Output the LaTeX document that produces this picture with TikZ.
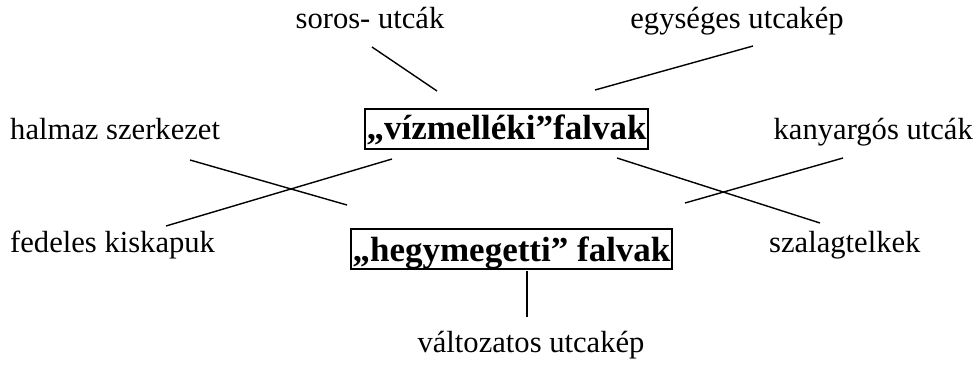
\documentclass[tikz,border=0pt]{standalone}
\usepackage{fontspec}
\setmainfont{Liberation Serif}
\begin{document}
\begin{tikzpicture}[x=1pt,y=-1pt,
  lbl/.style={inner sep=0pt,font=\fontsize{30.6}{36}\selectfont},
  mainbox/.style={draw,line width=2pt,inner ysep=0pt,inner xsep=1.5pt,font=\fontsize{35}{40}\selectfont\bfseries,anchor=north},
  conn/.style={line width=1.4pt}]
\useasboundingbox (0,0) rectangle (976,365);
% boxes
\node[mainbox,text height=30pt,text depth=10pt,minimum width=283pt] (viz) at (506.5,108) {„vízmelléki”falvak};
\node[mainbox,text height=32pt,text depth=8pt,minimum width=319pt] (hegy) at (511.5,228) {„hegymegetti” falvak};
% labels
\node[lbl,anchor=base] (soros) at (370,28) {soros- utcák};
\node[lbl,anchor=base] (egys) at (737,28) {egységes utcakép};
\node[lbl,anchor=base west] (halmaz) at (10,139) {halmaz szerkezet};
\node[lbl,anchor=base east] (kany) at (973,139) {kanyargós utcák};
\node[lbl,anchor=base west] (fedeles) at (10,252) {fedeles kiskapuk};
\node[lbl,anchor=base west] (szalag) at (769,252) {szalagtelkek};
\node[lbl,anchor=base] (valt) at (531,352) {változatos utcakép};
% connector end points
\coordinate (s1) at (372,47);   \coordinate (s2) at (437,91);
\coordinate (e1) at (595,90);   \coordinate (e2) at (753,46);
\coordinate (h1) at (190,160);  \coordinate (h2) at (347,205);
\coordinate (f1) at (166,226);  \coordinate (f2) at (392,159);
\coordinate (z1) at (617,158);  \coordinate (z2) at (820,223);
\coordinate (k1) at (685,203);  \coordinate (k2) at (843,158);
\coordinate (v1) at (527,271);  \coordinate (v2) at (527,317);
\draw[conn] (s1) -- (s2);
\draw[conn] (e1) -- (e2);
\draw[conn] (h1) -- (h2);
\draw[conn] (f1) -- (f2);
\draw[conn] (z1) -- (z2);
\draw[conn] (k1) -- (k2);
\draw[conn] (v1) -- (v2);
\end{tikzpicture}
\end{document}
